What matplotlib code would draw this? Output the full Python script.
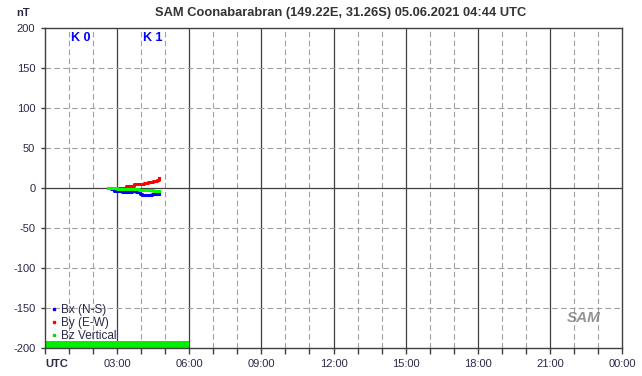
import numpy as np
import matplotlib
matplotlib.use("Agg")
import matplotlib.pyplot as plt
from matplotlib.lines import Line2D

plt.rcParams["font.family"] = ["Liberation Sans", "DejaVu Sans"]

# ---------- data (hours UTC, nT) ----------
bx_t = [2.6, 2.75, 2.85, 3.0, 3.2, 3.4, 3.6, 3.8, 3.95, 4.05, 4.2, 4.35, 4.45, 4.6, 4.75]
bx_v = [0, -1, -4, -4, -5, -5, -4, -5, -7, -9, -9, -9, -7, -7, -7]
by_t = [2.6, 2.9, 3.1, 3.25, 3.35, 3.5, 3.7, 3.9, 4.1, 4.3, 4.5, 4.65, 4.75]
by_v = [0, 0, 0, 0.5, 2, 3, 4.5, 5, 6, 7.5, 9, 10.5, 12]
bz_t = [2.6, 2.8, 3.0, 3.3, 3.6, 3.9, 4.1, 4.3, 4.5, 4.75]
bz_v = [0.5, 0, -1, -1, -1, -2, -3, -3, -3.5, -3.5]

k_centres = [1.5, 4.5]
k_values = [0, 1]
bar_start, bar_end = 0, 6          # green data-availability bar
bar_low, bar_high = -200, -191

x_ticks = np.arange(0, 25, 3)
x_labels = ["UTC", "03:00", "06:00", "09:00", "12:00", "15:00", "18:00", "21:00", "00:00"]
y_ticks = np.arange(-200, 201, 50)

title = "SAM Coonabarabran (149.22E, 31.26S) 05.06.2021 04:44 UTC"
txt_col = "#2a2a48"
grid_col = "#a0a0a0"
dark = "#404040"

fig = plt.figure(figsize=(6.42, 3.76), dpi=100)
ax = fig.add_axes([0.0701, 0.0745, 0.8988, 0.851])
ax.set_xlim(0, 24)
ax.set_ylim(-200, 200)

# grid
for h in range(1, 24):
    if h % 3 == 0:
        ax.axvline(h, color=dark, lw=0.9, zorder=1)
    else:
        ax.axvline(h, color=grid_col, lw=0.8, ls=(0, (5, 3)), zorder=1)
for v in y_ticks[1:-1]:
    if v == 0:
        ax.axhline(v, color=dark, lw=0.9, zorder=1)
    else:
        ax.axhline(v, color=grid_col, lw=0.8, ls=(0, (5, 3)), zorder=1)

ax.fill_between([bar_start, bar_end], bar_low, bar_high, color="#00ee00", lw=0, zorder=2)

ax.plot(bx_t, bx_v, color="#0000ff", lw=2.2, drawstyle="steps-post", zorder=3)
ax.plot(by_t, by_v, color="#ff0000", lw=2.2, drawstyle="steps-post", zorder=4)
ax.plot(bz_t, bz_v, color="#00ff00", lw=2.2, drawstyle="steps-post", zorder=5)

for c, k in zip(k_centres, k_values):
    ax.text(c, 188, f"K {k}", color="#0000ff", fontsize=9, fontweight="bold",
            ha="center", va="center", zorder=6)

for s in ax.spines.values():
    s.set_color(dark)
    s.set_linewidth(1.0)

ax.set_xticks(x_ticks)
ax.set_xticklabels(x_labels, fontsize=8, color=txt_col)
ax.get_xticklabels()[0].set_fontweight("bold")
ax.get_xticklabels()[0].set_horizontalalignment("left")
ax.set_xticks(np.arange(0, 25, 1), minor=True)
ax.tick_params(axis="x", which="both", length=4, width=1, color=dark, pad=4)
ax.set_yticks(y_ticks)
ax.set_yticklabels([str(v) for v in y_ticks], fontsize=8, color=txt_col)
ax.tick_params(axis="y", length=3, width=1, color=dark, pad=4)

handles = [Line2D([], [], ls="", marker="s", ms=2, color=c) for c in ("#0000ff", "#ff0000", "#00dd00")]
ax.legend(handles, ["Bx (N-S)", "By (E-W)", "Bz Vertical"], loc="lower left",
          bbox_to_anchor=(-0.005, -0.008), frameon=False, fontsize=8.5,
          handlelength=0.6, handletextpad=0.3, labelspacing=0.1, borderpad=0.2,
          labelcolor=txt_col)

fig.text(0.046, 0.965, "nT", fontsize=8, fontweight="bold", color=txt_col, ha="right", va="center")
fig.text(0.53, 0.965, title, fontsize=9.3, fontweight="bold", color="#333333", ha="center", va="center")

# logo stand-in
ax.text(22.4, -162, "SAM", fontsize=11, fontstyle="italic", fontweight="bold",
        color="#7a7a7a", ha="center", va="center", alpha=0.8, zorder=6)

fig.savefig("out.png", dpi=100)
